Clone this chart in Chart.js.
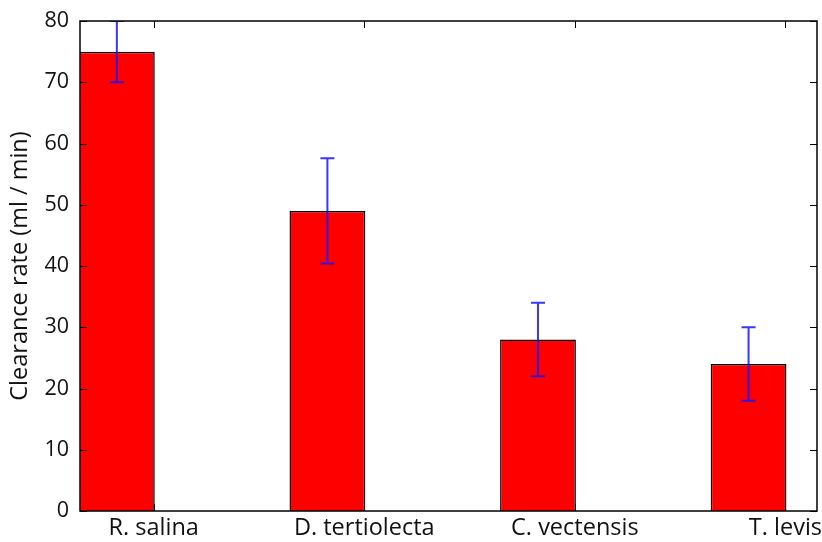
<!DOCTYPE html>
<html>
<head>
<meta charset="utf-8">
<script src="https://cdn.jsdelivr.net/npm/chart.js@4"></script>
<style>
  html, body { margin: 0; padding: 0; background: #fff; }
  #wrap { width: 822px; height: 542px; }
</style>
</head>
<body>
<div id="wrap"><canvas id="c" width="822" height="542"></canvas></div>
<script>
// Clearance rate per algal species, with error (±) per bar
const species = ["R. salina", "D. tertiolecta", "C. vectensis", "T. levis"];
const clearanceRate = [75, 49, 28, 24];
const clearanceErr = [5, 8.6, 6, 6];
const yTicks = [0, 10, 20, 30, 40, 50, 60, 70, 80];

// bars sit at integer positions (left edge) with width 0.35; labels at the right edge
const barWidth = 0.35;
const barCenters = species.map((_, i) => i + barWidth / 2);
const labelPositions = species.map((_, i) => i + barWidth);

const FONT = "'Open Sans', 'DejaVu Sans', sans-serif";

// frame, inward ticks and error bars
const framePlugin = {
  id: 'frame',
  afterDatasetsDraw(chart) {
    const { ctx, chartArea: a, scales: { x, y } } = chart;
    ctx.save();
    // error bars
    ctx.beginPath();
    ctx.rect(a.left, a.top, a.right - a.left, a.bottom - a.top);
    ctx.clip();
    ctx.strokeStyle = 'rgba(20,20,255,0.85)';
    ctx.lineWidth = 2;
    clearanceRate.forEach((v, i) => {
      const px = x.getPixelForValue(barCenters[i]);
      const hi = y.getPixelForValue(v + clearanceErr[i]);
      const lo = y.getPixelForValue(v - clearanceErr[i]);
      ctx.beginPath();
      ctx.moveTo(px, hi); ctx.lineTo(px, lo);
      ctx.moveTo(px - 7, hi); ctx.lineTo(px + 7, hi);
      ctx.moveTo(px - 7, lo); ctx.lineTo(px + 7, lo);
      ctx.stroke();
    });
    ctx.restore();

    ctx.save();
    ctx.strokeStyle = '#000';
    ctx.lineWidth = 1;
    const tl = 7;
    ctx.beginPath();
    yTicks.forEach(t => {
      const py = Math.round(y.getPixelForValue(t)) + 0.5;
      ctx.moveTo(a.left, py); ctx.lineTo(a.left + tl, py);
      ctx.moveTo(a.right, py); ctx.lineTo(a.right - tl, py);
    });
    labelPositions.forEach(t => {
      const px = Math.round(x.getPixelForValue(t)) + 0.5;
      ctx.moveTo(px, a.bottom); ctx.lineTo(px, a.bottom - tl);
      ctx.moveTo(px, a.top); ctx.lineTo(px, a.top + tl);
    });
    ctx.stroke();
    ctx.lineWidth = 1.5;
    ctx.strokeRect(a.left, a.top, a.right - a.left, a.bottom - a.top);
    ctx.restore();
  }
};

new Chart(document.getElementById('c'), {
  type: 'bar',
  data: {
    datasets: [{
      data: clearanceRate.map((v, i) => ({ x: barCenters[i], y: v })),
      backgroundColor: '#ff0000',
      borderColor: '#000000',
      borderWidth: 1.5,
      barPercentage: 0.36,
      categoryPercentage: 1
    }]
  },
  options: {
    responsive: false,
    animation: false,
    layout: { padding: { top: 21, right: 5, left: 0, bottom: 0 } },
    plugins: { legend: { display: false }, tooltip: { enabled: false } },
    scales: {
      x: {
        type: 'linear',
        min: 0,
        max: 3.5,
        offset: false,
        grid: { display: false, drawTicks: false, offset: false },
        border: { display: false },
        afterBuildTicks(scale) {
          scale.ticks = labelPositions.map(v => ({ value: v }));
        },
        afterFit(scale) {
          scale.height = 31;
          scale.paddingLeft = 0;
          scale.paddingRight = 0;
        },
        ticks: {
          autoSkip: false,
          maxRotation: 0,
          padding: 3,
          color: '#111',
          font: { family: FONT, size: 23.5 },
          callback: (v, i) => species[i]
        }
      },
      y: {
        min: 0,
        max: 80,
        grid: { display: false, drawTicks: false },
        border: { display: false },
        afterBuildTicks(scale) {
          scale.ticks = yTicks.map(v => ({ value: v }));
        },
        afterFit(scale) {
          scale.width = 80;
          scale.paddingTop = 0;
          scale.paddingBottom = 0;
        },
        title: {
          display: true,
          text: 'Clearance rate (ml / min)',
          color: '#111',
          font: { family: FONT, size: 23.5 },
          padding: { top: 6, bottom: 0 }
        },
        ticks: {
          padding: 11,
          color: '#111',
          font: { family: FONT, size: 21.5 }
        }
      }
    }
  },
  plugins: [framePlugin]
});
</script>
</body>
</html>
